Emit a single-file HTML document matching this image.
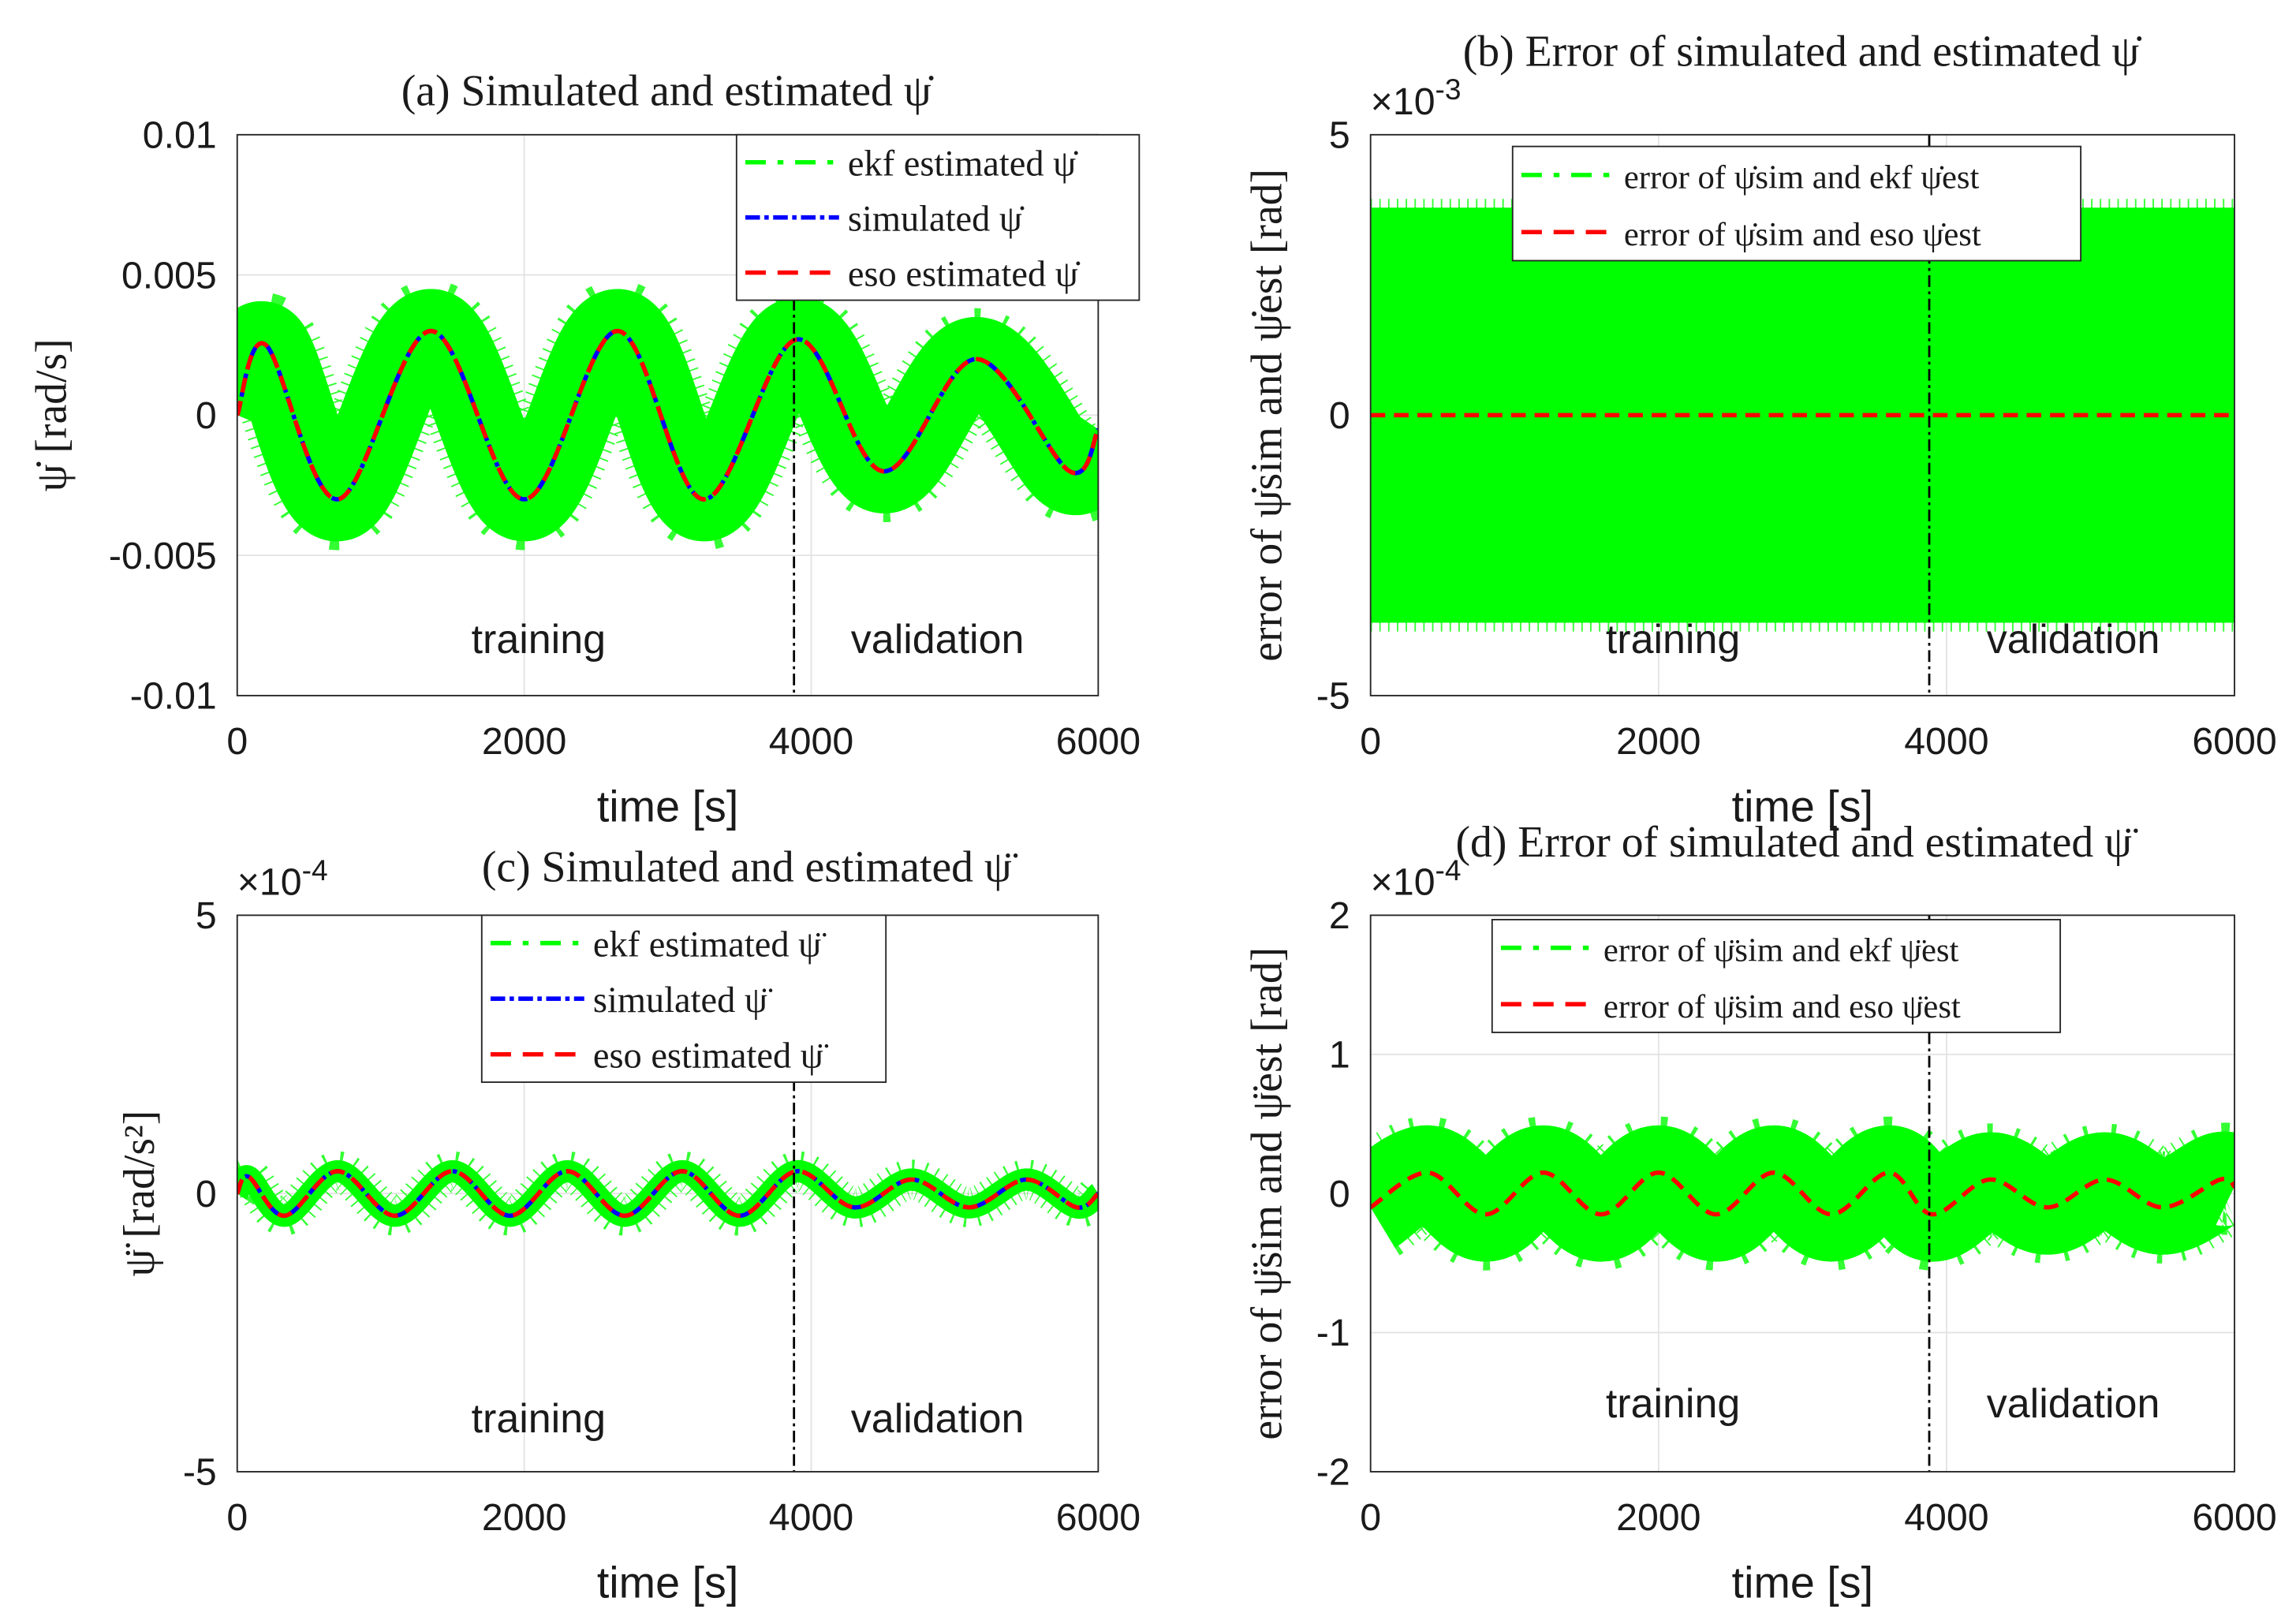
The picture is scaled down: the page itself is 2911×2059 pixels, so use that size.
<!DOCTYPE html>
<html><head><meta charset="utf-8"><style>
html,body{margin:0;padding:0;background:#fff;}
svg{display:block}
.t{font-family:"Liberation Sans",sans-serif;fill:#1a1a1a}
.s{font-family:"Liberation Serif",serif;fill:#1a1a1a}
</style></head><body>
<svg id="c" width="2911" height="2059" viewBox="0 0 1568 1109" preserveAspectRatio="none" xmlns="http://www.w3.org/2000/svg"></svg>
<script>
// Panel (a) data
const aT=[0,200,700,1350,2000,2650,3250,3900,4500,5150,5800,6000];
const aV=[0,0.0025,-0.003,0.003,-0.003,0.003,-0.003,0.0027,-0.002,0.002,-0.002,-0.0005];
const aNoise=0.0015;
// Panel (b) data
const bT=[0,6000];
const bV=[0,0];
const bNoise=3.7;
// Panel (c) data (x1e-4)
const cT=[0,80,330,700,1100,1500,1900,2300,2700,3100,3500,3900,4300,4700,5100,5500,5850,6000];
const cV=[0,0.3,-0.4,0.4,-0.4,0.4,-0.4,0.4,-0.4,0.4,-0.4,0.4,-0.25,0.25,-0.25,0.25,-0.25,0];
const cNoise=0.2;
// Panel (d) data (x1e-4)
const dT=[0,400,800,1200,1600,2000,2400,2800,3200,3600,3900,4300,4700,5100,5500,5900,6000];
const dV=[-0.1,0.15,-0.15,0.15,-0.15,0.15,-0.15,0.15,-0.15,0.15,-0.15,0.1,-0.1,0.1,-0.1,0.1,0.05];
const dNoise=0.34;
const xTicks=[0,2000,4000,6000];
const aTicks=[0.01,0.005,0,-0.005,-0.01], aLab=["0.01","0.005","0","-0.005","-0.01"];
const bTicks=[5,0,-5], bLab=["5","0","-5"];
const cTicks=[5,0,-5], cLab=["5","0","-5"];
const dTicks=[2,1,0,-1,-2], dLab=["2","1","0","-1","-2"];
const splitT=3880;

const svg=document.getElementById('c');
const NS='http://www.w3.org/2000/svg';
function el(tag,attrs,parent,text){const e=document.createElementNS(NS,tag);for(const k in attrs)e.setAttribute(k,attrs[k]);if(text!==undefined)e.textContent=text;(parent||svg).appendChild(e);return e;}
function pathThrough(T,V,sx,sy){
  const P=T.map((t,i)=>[sx(t),sy(V[i])]);
  let d='M'+P[0][0]+','+P[0][1];
  for(let i=0;i<P.length-1;i++){
    const p0=P[Math.max(0,i-1)],p1=P[i],p2=P[i+1],p3=P[Math.min(P.length-1,i+2)];
    const c1=[p1[0]+(p2[0]-p0[0])/6,p1[1]+(p2[1]-p0[1])/6];
    const c2=[p2[0]-(p3[0]-p1[0])/6,p2[1]-(p3[1]-p1[1])/6];
    d+=' C'+c1+' '+c2+' '+p2;
  }
  return d;
}
function panel(o){
  const g=el('g',{});
  
  
  const sx=t=>o.x0+(t-0)/6000*(o.x1-o.x0);
  const sy=v=>o.y1-(v-o.ymin)/(o.ymax-o.ymin)*(o.y1-o.y0);
  el('rect',{x:o.x0,y:o.y0,width:o.x1-o.x0,height:o.y1-o.y0,fill:'#fff'},g);
  const grid=el('g',{stroke:'#e3e3e3','stroke-width':1},g);
  
  xTicks.forEach(t=>el('line',{x1:sx(t),x2:sx(t),y1:o.y0,y2:o.y1},grid));
  o.ticks.forEach(v=>el('line',{x1:o.x0,x2:o.x1,y1:sy(v),y2:sy(v)},grid));
  const clip='cl'+o.name;
  const cp=el('clipPath',{id:clip},g);el('rect',{x:o.x0,y:o.y0,width:o.x1-o.x0,height:o.y1-o.y0},cp);
  const sg=el('g',{'clip-path':'url(#'+clip+')'},g);
  const pd=pathThrough(o.T,o.V,sx,sy);
  const bw=Math.abs(sy(o.noise)-sy(0))*2;
  const ekf=el('path',{d:pd,fill:'none',stroke:'#00ff00','stroke-width':bw,'stroke-linejoin':'round'},sg);
  
  const jag=el('path',{d:pd,fill:'none',stroke:'#00ff00','stroke-width':bw+12,'stroke-dasharray':'1 5',opacity:0.8},sg);
  
  if(o.sim){const s=el('path',{d:pd,fill:'none',stroke:'#0000ff','stroke-width':3,'stroke-dasharray':'10 3 3 3'},sg);
    }
  const e=el('path',{d:pd,fill:'none',stroke:'#ff0000','stroke-width':3,'stroke-dasharray':'10 6'},sg);
  
  const sp=el('line',{x1:sx(splitT),x2:sx(splitT),y1:o.y0,y2:o.y1,stroke:'#000','stroke-width':1.5,'stroke-dasharray':'8 3 2 3'},g);
  
  const ax=el('rect',{x:o.x0,y:o.y0,width:o.x1-o.x0,height:o.y1-o.y0,fill:'none',stroke:'#262626','stroke-width':1},g);
  
  xTicks.forEach(t=>{const tx=el('text',{x:sx(t),y:o.y1+40,'font-size':26,'text-anchor':'middle',class:'t'},g,String(t));
    });
  o.ticks.forEach((v,i)=>{const tx=el('text',{x:o.x0-14,y:sy(v)+9,'font-size':26,'text-anchor':'end',class:'t'},g,o.labs[i]);
    });
  if(o.exp){const ex=el('text',{x:o.x0,y:o.y0-14,'font-size':26,class:'t'},g);
    el('tspan',{},ex,'×10');el('tspan',{dy:-10,'font-size':20},ex,o.exp);}
  const xl=el('text',{x:(o.x0+o.x1)/2,y:o.y1+86,'font-size':30,'text-anchor':'middle',class:'t'},g,'time [s]');
  
  const yl=el('text',{x:0,y:0,'font-size':30,'text-anchor':'middle',class:'s',transform:'translate('+o.ylx+','+(o.y0+o.y1)/2+') rotate(-90)'},g,o.ylabel);
  
  const ti=el('text',{x:o.tx,y:o.ty,'font-size':30,'text-anchor':'middle',class:'s'},g,o.title);
  
  const tr=el('text',{x:sx(2100),y:o.trY,'font-size':28,'text-anchor':'middle',class:'t'},g,'training');
  
  const va=el('text',{x:sx(4880),y:o.trY,'font-size':28,'text-anchor':'middle',class:'t'},g,'validation');
  
  const L=o.leg;const lg=el('g',{},g);
  el('rect',{x:L.x,y:L.y,width:L.w,height:L.h,fill:'#fff',stroke:'#262626','stroke-width':1},lg);
  const n=L.items.length,rh=L.h/n;
  L.items.forEach((it,i)=>{const yy=L.y+rh*(i+0.5);
    const ln=el('line',{x1:L.x+6,x2:L.x+70,y1:yy,y2:yy,stroke:it[0],'stroke-width':3,'stroke-dasharray':it[2]},lg);
    
    const lt=el('text',{x:L.x+76,y:yy+9,'font-size':L.fs,class:'s'},lg,it[1]);
    });
}
const dash1='14 8 4 8',dashSim='10 3 3 3',dashRed='14 8';
panel({name:'panel-a',x0:162,x1:750,y0:92,y1:475,ymin:-0.01,ymax:0.01,ticks:aTicks,labs:aLab,T:aT,V:aV,noise:aNoise,sim:true,
  ylabel:'ψ̇ [rad/s]',ylx:45,title:'(a) Simulated and estimated ψ̇',tx:455,ty:72,trY:446,
  leg:{x:503,y:92,w:275,h:113,fs:25,items:[['#00ff00','ekf estimated ψ̇',dash1],['#0000ff','simulated ψ̇',dashSim],['#ff0000','eso estimated ψ̇',dashRed]]}});
panel({name:'panel-b',x0:936,x1:1526,y0:92,y1:475,ymin:-5,ymax:5,ticks:bTicks,labs:bLab,T:bT,V:bV,noise:bNoise,sim:false,exp:'-3',
  ylabel:'error of ψ̇sim and ψ̇est [rad]',ylx:875,title:'(b) Error of simulated and estimated ψ̇',tx:1230,ty:45,trY:446,
  leg:{x:1033,y:100,w:388,h:78,fs:23,items:[['#00ff00','error of ψ̇sim and ekf ψ̇est',dash1],['#ff0000','error of ψ̇sim and eso ψ̇est',dashRed]]}});
panel({name:'panel-c',x0:162,x1:750,y0:625,y1:1005,ymin:-5,ymax:5,ticks:cTicks,labs:cLab,T:cT,V:cV,noise:cNoise,sim:true,exp:'-4',
  ylabel:'ψ̈ [rad/s²]',ylx:105,title:'(c) Simulated and estimated ψ̈',tx:510,ty:602,trY:978,
  leg:{x:329,y:625,w:276,h:114,fs:25,items:[['#00ff00','ekf estimated ψ̈',dash1],['#0000ff','simulated ψ̈',dashSim],['#ff0000','eso estimated ψ̈',dashRed]]}});
panel({name:'panel-d',x0:936,x1:1526,y0:625,y1:1005,ymin:-2,ymax:2,ticks:dTicks,labs:dLab,T:dT,V:dV,noise:dNoise,sim:false,exp:'-4',
  ylabel:'error of ψ̈sim and ψ̈est [rad]',ylx:875,title:'(d) Error of simulated and estimated ψ̈',tx:1225,ty:585,trY:968,
  leg:{x:1019,y:628,w:388,h:77,fs:23,items:[['#00ff00','error of ψ̈sim and ekf ψ̈est',dash1],['#ff0000','error of ψ̈sim and eso ψ̈est',dashRed]]}});
</script>
</body></html>
